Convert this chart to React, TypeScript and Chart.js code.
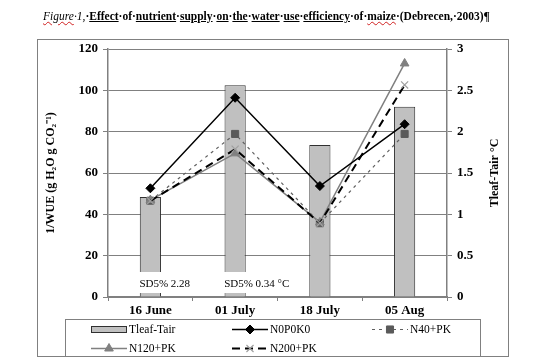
import React, { useEffect, useRef } from 'react';
import { Chart, registerables } from 'chart.js';

Chart.register(...registerables);

const categories = ['16 June', '01 July', '18 July', '05 Aug'];
const tleafTair = [1.21, 2.56, 1.84, 2.3];
const n0p0k0 = [52.6, 96.4, 53.7, 83.6];
const n40pk = [46.6, 78.9, 35.7, 78.9];
const n120pk = [46.9, 69.5, 36.1, 113];
const n200pk = [46.5, 71.5, 35.7, 102.6];
const sdLabels = ['SD5% 2.28', 'SD5% 0.34 °C'];
const seriesNames = ['Tleaf-Tair', 'N0P0K0', 'N40+PK', 'N120+PK', 'N200+PK'];
const leftTitle = '1/WUE (g H₂O g CO₂⁻¹)';
const rightTitle = 'Tleaf-Tair °C';

const SERIF = "'Liberation Serif', 'Times New Roman', serif";

function drawMarker(ctx: CanvasRenderingContext2D, style: string, r: number, x: number, y: number, fill: string, stroke: string, lw: number) {
  ctx.save();
  ctx.fillStyle = fill;
  ctx.strokeStyle = stroke;
  ctx.lineWidth = lw;
  ctx.setLineDash([]);
  ctx.beginPath();
  const s = r * Math.SQRT1_2;
  if (style === 'rectRot') {
    ctx.moveTo(x, y - r);
    ctx.lineTo(x + r, y);
    ctx.lineTo(x, y + r);
    ctx.lineTo(x - r, y);
    ctx.closePath();
    ctx.fill();
    ctx.stroke();
  } else if (style === 'rect') {
    ctx.rect(x - s, y - s, 2 * s, 2 * s);
    ctx.fill();
    ctx.stroke();
  } else if (style === 'triangle') {
    for (let k = 0; k < 3; k++) {
      const a = (k * 2 * Math.PI) / 3;
      const px = x + Math.sin(a) * r;
      const py = y - Math.cos(a) * r;
      if (k === 0) ctx.moveTo(px, py);
      else ctx.lineTo(px, py);
    }
    ctx.closePath();
    ctx.fill();
    ctx.stroke();
  } else if (style === 'crossRot') {
    ctx.moveTo(x - s, y - s);
    ctx.lineTo(x + s, y + s);
    ctx.moveTo(x + s, y - s);
    ctx.lineTo(x - s, y + s);
    ctx.stroke();
  }
  ctx.restore();
}

const customPlugin = {
  id: 'custom',
  beforeDraw(chart: any) {
    const ctx = chart.ctx;
    ctx.save();
    ctx.fillStyle = '#fff';
    ctx.fillRect(0, 0, chart.width, chart.height);
    ctx.strokeStyle = '#808080';
    ctx.lineWidth = 1;
    ctx.strokeRect(37.5, 39.5, 471, 317);
    ctx.restore();
  },
  afterDatasetsDraw(chart: any) {
    const ctx = chart.ctx;
    const xs = chart.scales.x;
    const ys = chart.scales.y;
    ctx.save();
    ctx.font = `11px ${SERIF}`;
    ctx.textBaseline = 'middle';
    sdLabels.forEach((t, i) => {
      const cx = xs.getPixelForValue(i);
      const y0 = ys.getPixelForValue(0);
      const w = ctx.measureText(t).width;
      const left = cx - 14;
      ctx.fillStyle = '#fff';
      ctx.fillRect(left, y0 - 25, w + 8, 21);
      ctx.fillStyle = '#000';
      ctx.textAlign = 'left';
      ctx.fillText(t, left + 3, y0 - 13);
    });
    ctx.restore();
  },
  afterDraw(chart: any) {
    const ctx = chart.ctx;
    ctx.save();
    const ca = chart.chartArea;
    ctx.translate(495, (ca.top + ca.bottom) / 2);
    ctx.rotate(-Math.PI / 2);
    ctx.font = `bold 12px ${SERIF}`;
    ctx.fillStyle = '#000';
    ctx.textAlign = 'center';
    ctx.textBaseline = 'middle';
    ctx.fillText(rightTitle, 0, 0);
    ctx.restore();

    ctx.save();
    ctx.strokeStyle = '#808080';
    ctx.lineWidth = 1;
    ctx.fillStyle = '#fff';
    ctx.fillRect(65.5, 319.5, 415, 37);
    ctx.strokeRect(65.5, 319.5, 415, 37);
    const colX = [91, 232, 372];
    const rowY = [329, 348];
    chart.data.datasets.forEach((ds: any, i: number) => {
      const sx = colX[i % 3];
      const y = rowY[Math.floor(i / 3)];
      if (ds.type === 'bar') {
        ctx.fillStyle = ds.backgroundColor;
        ctx.fillRect(sx + 0.5, y - 2.5, 35, 6);
        ctx.strokeStyle = ds.borderColor;
        ctx.lineWidth = 1;
        ctx.setLineDash([]);
        ctx.strokeRect(sx + 0.5, y - 2.5, 35, 6);
      } else {
        ctx.strokeStyle = ds.borderColor;
        ctx.lineWidth = ds.borderWidth;
        ctx.setLineDash(ds.borderDash || []);
        ctx.beginPath();
        ctx.moveTo(sx, y + 0.5);
        ctx.lineTo(sx + 36, y + 0.5);
        ctx.stroke();
        ctx.setLineDash([]);
        drawMarker(ctx, ds.pointStyle, ds.pointRadius, sx + 18, y + 0.5, ds.pointBackgroundColor, ds.pointBorderColor, ds.pointBorderWidth ?? 1);
      }
      ctx.fillStyle = '#000';
      ctx.font = `11.5px ${SERIF}`;
      ctx.textAlign = 'left';
      ctx.textBaseline = 'middle';
      ctx.fillText(ds.label, sx + 38, y + 1);
    });
    ctx.restore();
  },
};

export default function App() {
  const ref = useRef<HTMLCanvasElement>(null);
  useEffect(() => {
    if (!ref.current) return;
    const chart = new Chart(ref.current, {
      type: 'bar',
      data: {
        labels: categories,
        datasets: [
          {
            type: 'bar',
            label: seriesNames[0],
            data: tleafTair,
            yAxisID: 'y1',
            backgroundColor: '#c0c0c0',
            borderColor: '#303030',
            borderWidth: 1,
            barPercentage: 0.25,
            categoryPercentage: 1,
            order: 10,
          } as any,
          {
            type: 'line',
            label: seriesNames[1],
            data: n0p0k0,
            yAxisID: 'y',
            borderColor: '#000',
            borderWidth: 1.5,
            pointStyle: 'rectRot',
            pointRadius: 4.5,
            pointBackgroundColor: '#000',
            pointBorderColor: '#000',
            pointBorderWidth: 1,
            order: 0,
          },
          {
            type: 'line',
            label: seriesNames[2],
            data: n40pk,
            yAxisID: 'y',
            borderColor: '#606060',
            borderWidth: 1.2,
            borderDash: [3, 4],
            pointStyle: 'rect',
            pointRadius: 5,
            pointBackgroundColor: '#5a5a5a',
            pointBorderColor: '#5a5a5a',
            pointBorderWidth: 1,
            order: 3,
          },
          {
            type: 'line',
            label: seriesNames[3],
            data: n120pk,
            yAxisID: 'y',
            borderColor: '#808080',
            borderWidth: 1.5,
            pointStyle: 'triangle',
            pointRadius: 5,
            pointBackgroundColor: '#808080',
            pointBorderColor: '#808080',
            pointBorderWidth: 1,
            order: 2,
          },
          {
            type: 'line',
            label: seriesNames[4],
            data: n200pk,
            yAxisID: 'y',
            borderColor: '#000',
            borderWidth: 2,
            borderDash: [8, 5],
            pointStyle: 'crossRot',
            pointRadius: 5,
            pointBackgroundColor: '#a0a0a0',
            pointBorderColor: '#a0a0a0',
            pointBorderWidth: 1.2,
            order: 1,
          },
        ],
      },
      options: {
        responsive: false,
        animation: false,
        layout: { padding: { left: 37, right: 25, top: 49, bottom: 45 } },
        plugins: { legend: { display: false }, tooltip: { enabled: false } },
        scales: {
          x: {
            offset: true,
            grid: { display: true, drawOnChartArea: false, drawTicks: true, tickLength: 4, color: '#808080', offset: true },
            border: { color: '#808080', width: 1.5 },
            ticks: { font: { family: SERIF, size: 13, weight: 'bold' }, color: '#000', padding: 2, maxRotation: 0 },
            afterFit: (s: any) => { s.height = 22; },
          },
          y: {
            position: 'left',
            min: 0,
            max: 120,
            ticks: { stepSize: 20, font: { family: SERIF, size: 13, weight: 'bold' }, color: '#000', padding: 5 },
            grid: { color: '#808080', lineWidth: 1, tickLength: 5 },
            border: { color: '#808080', width: 1.5 },
            title: { display: true, text: leftTitle, font: { family: SERIF, size: 12, weight: 'bold' }, color: '#000', padding: { top: 7, bottom: 0 } },
            afterFit: (s: any) => { s.width = 71; },
          },
          y1: {
            position: 'right',
            min: 0,
            max: 3,
            ticks: {
              stepSize: 0.5,
              font: { family: SERIF, size: 13, weight: 'bold' },
              color: '#000',
              padding: 5,
              callback: (v: any) => String(Number(v)),
            },
            grid: { drawOnChartArea: false, color: '#808080', tickLength: 5 },
            border: { color: '#808080', width: 1.5 },
            afterFit: (s: any) => { s.width = 61; },
          },
        },
      } as any,
      plugins: [customPlugin],
    });
    return () => chart.destroy();
  }, []);

  const u: React.CSSProperties = { textDecoration: 'underline' };
  const wavy: React.CSSProperties = { textDecoration: 'underline wavy #d02020', textDecorationThickness: '1px' };
  return (
    <div style={{ position: 'fixed', left: 0, top: 0, width: 533, height: 364, background: '#fff', overflow: 'hidden' }}>
      <canvas ref={ref} width={533} height={364} style={{ position: 'absolute', left: 0, top: 0 }} />
      <div
        style={{
          position: 'absolute',
          left: 43,
          top: 9,
          fontFamily: SERIF,
          fontSize: 11.5,
          lineHeight: '14px',
          whiteSpace: 'nowrap',
          color: '#000',
        }}
      >
        <span style={{ fontStyle: 'italic' }}><span style={wavy}>Figure</span>·1,</span>
        <b>·<span style={u}>Effect</span>·of·<span style={u}>nutrient</span>·<span style={u}>supply</span>·<span style={u}>on</span>·<span style={u}>the</span>·<span style={u}>water</span>·<span style={u}>use</span>·<span style={u}>efficiency</span>·of·<span style={wavy}>maize</span>·(Debrecen,·2003)¶</b>
      </div>
    </div>
  );
}
